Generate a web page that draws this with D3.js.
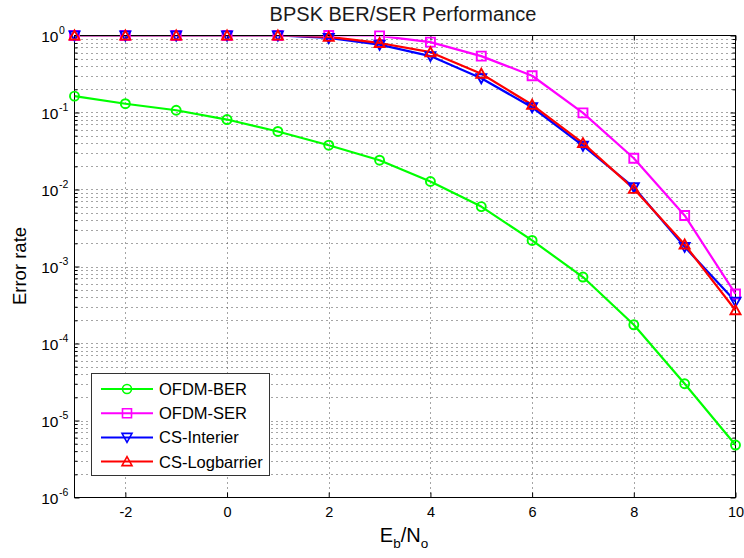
<!DOCTYPE html>
<html>
<head>
<meta charset="utf-8">
<script src="https://cdn.jsdelivr.net/npm/d3@7"></script>
<style>
  html, body { margin: 0; padding: 0; background: #fff; }
  svg { display: block; font-family: "Liberation Sans", Arial, Helvetica, sans-serif; }
</style>
</head>
<body>
<svg id="chart" width="744" height="558"></svg>
<script>
// Eb/No sweep (dB)
const snr = [-3, -2, -1, 0, 1, 2, 3, 4, 5, 6, 7, 8, 9, 10];

// Error rates per scheme
const ofdmBer      = [0.163, 0.130, 0.107, 0.081, 0.0567, 0.0376, 0.024, 0.0127, 0.0060, 0.00218, 0.00073, 0.000175, 0.000030, 0.0000048];
const ofdmSer      = [1, 1, 1, 1, 1, 1, 0.99, 0.82, 0.54, 0.30, 0.099, 0.0255, 0.0046, 0.00044];
const csInterier   = [1, 1, 1, 1, 1, 0.93, 0.76, 0.54, 0.279, 0.117, 0.037, 0.0107, 0.0018, 0.00035];
const csLogbarrier = [1, 1, 1, 1, 1, 0.96, 0.80, 0.607, 0.318, 0.126, 0.040, 0.0102, 0.00193, 0.00027];

const seriesNames = ["OFDM-BER", "OFDM-SER", "CS-Interier", "CS-Logbarrier"];

// Axis ticks
const xTicks = [-2, 0, 2, 4, 6, 8, 10];
const yTickExponents = [0, -1, -2, -3, -4, -5, -6];

const series = [
  { name: seriesNames[0], values: ofdmBer,      color: "#00ff00", marker: "circle" },
  { name: seriesNames[1], values: ofdmSer,      color: "#ff00ff", marker: "square" },
  { name: seriesNames[2], values: csInterier,   color: "#0000ff", marker: "down" },
  { name: seriesNames[3], values: csLogbarrier, color: "#ff0000", marker: "up" }
];

const svg = d3.select("#chart");
const L = 74.5, R = 735.5, T = 35.5, B = 497.5;

const x = d3.scaleLinear().domain([-3, 10]).range([L, R]);
const y = d3.scaleLog().domain([1e-6, 1]).range([B, T]);

// every minor/major position of the log axis
const yAll = [];
for (let e = -6; e < 0; e++) for (let m = 1; m <= 9; m++) yAll.push(m * Math.pow(10, e));
yAll.push(1);
const yMajor = yTickExponents.map(e => Math.pow(10, e));

// dotted grid
const grid = svg.append("g").attr("stroke", "#4a4a4a").attr("stroke-width", 1)
  .attr("stroke-dasharray", "1,4").attr("fill", "none");
grid.selectAll("line.h").data(yAll.filter(v => v < 1 && v > 1e-6)).join("line")
  .attr("x1", L + 2).attr("x2", R)
  .attr("y1", d => Math.round(y(d)) + 0.5).attr("y2", d => Math.round(y(d)) + 0.5);
grid.selectAll("line.v").data(xTicks.filter(v => v < 10)).join("line")
  .attr("y1", T + 2).attr("y2", B)
  .attr("x1", d => Math.round(x(d)) + 0.5).attr("x2", d => Math.round(x(d)) + 0.5);

// axes with inward ticks
const axisG = svg.append("g");
axisG.append("g").attr("transform", `translate(0,${B})`)
  .call(d3.axisBottom(x).tickValues(xTicks).tickSizeInner(-5).tickSizeOuter(0).tickFormat(d3.format("d")))
  .call(g => g.select(".domain").remove())
  .call(g => g.selectAll("text").attr("dy", null).attr("y", 19.5).attr("font-size", 14.5).attr("fill", "#000")
    .attr("font-family", "Liberation Sans, Arial, sans-serif").text(d => d < 0 ? "-" + Math.abs(d) : d));
axisG.append("g").attr("transform", `translate(0,${T})`)
  .call(d3.axisTop(x).tickValues(xTicks).tickSizeInner(-5).tickSizeOuter(0).tickFormat(""))
  .call(g => g.select(".domain").remove());

const minorY = yAll.filter(v => !yMajor.some(m => Math.abs(m - v) / m < 1e-9));
[[d3.axisLeft, L], [d3.axisRight, R]].forEach(([ax, pos]) => {
  axisG.append("g").attr("transform", `translate(${pos},0)`)
    .call(ax(y).tickValues(minorY).tickSizeInner(-3).tickSizeOuter(0).tickFormat(""))
    .call(g => g.select(".domain").remove());
  axisG.append("g").attr("transform", `translate(${pos},0)`)
    .call(ax(y).tickValues(yMajor).tickSizeInner(-5).tickSizeOuter(0).tickFormat(""))
    .call(g => g.select(".domain").remove());
});
axisG.selectAll(".tick line").attr("stroke", "#000");

// y tick labels 10^k
const yl = svg.append("g").attr("fill", "#000");
yTickExponents.forEach(e => {
  yl.append("text").attr("x", 58.5).attr("y", y(Math.pow(10, e)) + 6)
    .attr("text-anchor", "end").attr("font-size", 15.5).text("10");
  yl.append("text").attr("x", 59).attr("y", y(Math.pow(10, e)) - 1.5)
    .attr("font-size", 10.5).text(e === 0 ? "0" : "-" + Math.abs(e));
});

// box
svg.append("rect").attr("x", L).attr("y", T).attr("width", R - L).attr("height", B - T)
  .attr("fill", "none").attr("stroke", "#000").attr("stroke-width", 1);

// marker shapes
function markerPath(kind) {
  if (kind === "square") return "M-4.5,-4.5H4.5V4.5H-4.5Z";
  if (kind === "up") return "M0,-5L5,4L-5,4Z";
  if (kind === "down") return "M0,5L5,-4L-5,-4Z";
  return "M4.5,0A4.5,4.5 0 1,1 -4.5,0A4.5,4.5 0 1,1 4.5,0Z";
}

svg.append("clipPath").attr("id", "plotClip").append("rect")
  .attr("x", L).attr("y", T + 1).attr("width", R - L + 2).attr("height", B - T);

const line = d3.line().x((d, i) => x(snr[i])).y(d => y(d));
const lines = svg.append("g").attr("clip-path", "url(#plotClip)");
const marks = svg.append("g");
series.forEach(s => {
  lines.append("path").datum(s.values).attr("d", line)
    .attr("fill", "none").attr("stroke", s.color).attr("stroke-width", 2.2).attr("stroke-linejoin", "round");
  marks.selectAll(null).data(s.values).join("path")
    .attr("transform", (d, i) => `translate(${x(snr[i])},${y(d)})`)
    .attr("d", markerPath(s.marker))
    .attr("fill", "none").attr("stroke", s.color).attr("stroke-width", 1.9);
});

// legend
const lg = svg.append("g");
lg.append("rect").attr("x", 91.5).attr("y", 373.5).attr("width", 178).attr("height", 102)
  .attr("fill", "#fff").attr("stroke", "#333").attr("stroke-width", 1);
series.forEach((s, i) => {
  const cy = 389 + i * 24.2;
  lg.append("line").attr("x1", 101).attr("x2", 153).attr("y1", cy).attr("y2", cy)
    .attr("stroke", s.color).attr("stroke-width", 2);
  lg.append("path").attr("transform", `translate(127,${cy})`).attr("d", markerPath(s.marker))
    .attr("fill", "none").attr("stroke", s.color).attr("stroke-width", 1.6);
  lg.append("text").attr("x", 159).attr("y", cy + 6).attr("font-size", 16.5).attr("fill", "#000").text(s.name);
});

// title and axis labels
svg.append("text").attr("x", 403).attr("y", 21).attr("text-anchor", "middle")
  .attr("font-size", 20).attr("fill", "#1a1a1a").text("BPSK BER/SER Performance");

const xl = svg.append("text").attr("x", 404).attr("y", 542).attr("text-anchor", "middle")
  .attr("font-size", 20).attr("fill", "#000");
xl.append("tspan").text("E");
xl.append("tspan").attr("font-size", 13.5).attr("dy", 6).text("b");
xl.append("tspan").attr("dy", -6).text("/N");
xl.append("tspan").attr("font-size", 13.5).attr("dy", 6).text("o");

svg.append("text").attr("transform", "translate(26,266) rotate(-90)").attr("text-anchor", "middle")
  .attr("font-size", 18.5).attr("fill", "#000").text("Error rate");
</script>
</body>
</html>
